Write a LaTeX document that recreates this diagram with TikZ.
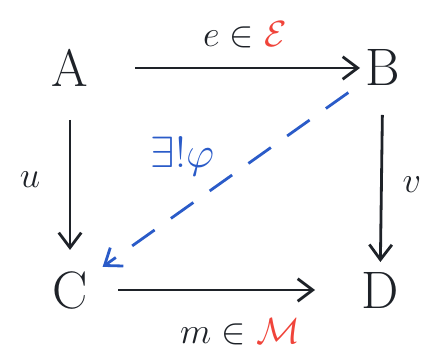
\documentclass[tikz,border=0pt]{standalone}
\usepackage{amsmath,amssymb}
\usetikzlibrary{arrows.meta}
\definecolor{handred}{HTML}{F0443A}
\definecolor{handblue}{HTML}{2A5BC8}
\definecolor{ink}{HTML}{1E2228}

\tikzset{
  obj/.style={font=\fontsize{30}{32}\selectfont, text=ink},
  lab/.style={font=\fontsize{22}{24}\selectfont, text=ink},
  arr/.style={draw=ink, line width=1.6pt, -{Straight Barb[length=3mm,width=4.5mm,line width=1.6pt]}},
}

\begin{document}
\begin{tikzpicture}
  \useasboundingbox (0,0) rectangle (8.96,7.14);

  % objects
  \node[obj] (A) at (1.4,5.78) {A};
  \node[obj] (B) at (7.66,5.78) {B};
  \node[obj] (C) at (1.4,1.34) {C};
  \node[obj] (D) at (7.6,1.34) {D};

  % square
  \draw[arr, shorten <=1.3cm, shorten >=0.46cm] (A.center) -- (B.center);
  \draw[arr, shorten <=1.04cm, shorten >=0.8cm] (A.center) -- (C.center);
  \draw[arr, shorten <=0.94cm, shorten >=0.56cm] (B.center) -- (D.center);
  \draw[arr, shorten <=0.96cm, shorten >=1.3cm] (C.center) -- (D.center);

  % unique diagonal
  \draw[arr, draw=handblue, dash pattern=on 0.55cm off 0.4cm,
        shorten <=0.85cm, shorten >=0.8cm] (B.center) -- (C.center);

  % labels
  \node[lab] (lE) at (4.9,6.44) {$e\in{\color{handred}\mathcal{E}}$};
  \node[lab] (lM) at (4.8,0.5) {$m\in{\color{handred}\mathcal{M}}$};
  \node[lab] (lu) at (0.6,3.54) {$u$};
  \node[lab] (lv) at (8.24,3.44) {$v$};
  \node[lab, text=handblue, font=\fontsize{26}{28}\selectfont] (lphi) at (3.65,4.0) {$\exists!\varphi$};
\end{tikzpicture}
\end{document}
